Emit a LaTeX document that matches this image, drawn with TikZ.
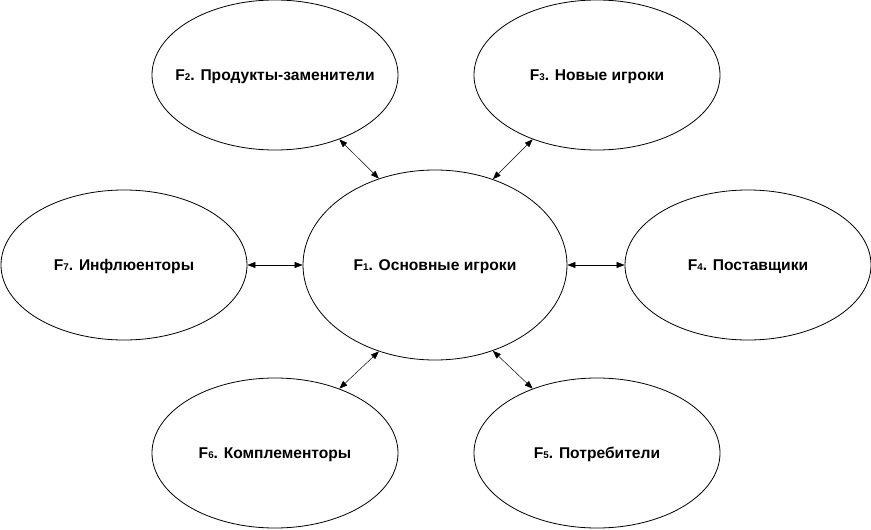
\documentclass[tikz,border=0pt]{standalone}
\usepackage{fontspec}
\setmainfont{Liberation Sans}
\usetikzlibrary{shapes.geometric, arrows.meta, positioning}

\newcommand{\fidx}[1]{F{\fontsize{9.8}{9.8}\selectfont #1}.}

\begin{document}
\begin{tikzpicture}[
			x=1pt, y=-1pt,
			factor/.style={ellipse, draw, line width=0.8pt, inner sep=0pt, minimum width=246pt, minimum height=150pt,
				label={[font=\fontsize{15.6}{18}\selectfont\bfseries, yshift=-1.5pt]center:#1}},
			core/.style={factor=#1, minimum width=264pt, minimum height=190pt},
			link/.style={line width=0.5pt, {Triangle[length=8pt, width=6pt]}-{Triangle[length=8pt, width=6pt]}}
			]
			\useasboundingbox (0,0) rectangle (871,530);
			% forces round the core
			\node[core={\fidx{1} Основные игроки}] (players) at (435,265) {};
			\node[factor={\fidx{2} Продукты-заменители}] (substitutes) at (275,75) {};
			\node[factor={\fidx{3} Новые игроки}] (entrants) at (597,75) {};
			\node[factor={\fidx{4} Поставщики}] (suppliers) at (748,265) {};
			\node[factor={\fidx{5} Потребители}] (consumers) at (597,453) {};
			\node[factor={\fidx{6} Комплементоры}] (complementors) at (275,453) {};
			\node[factor={\fidx{7} Инфлюенторы}] (influencers) at (124,265) {};
			% links
			\draw[link] (substitutes.-45) -- (players.123.8);
			\draw[link] (entrants.-135) -- (players.56.2);
			\draw[link] (influencers.east) -- (players.west);
			\draw[link] (players.east) -- (suppliers.west);
			\draw[link] (complementors.45) -- (players.-123.8);
			\draw[link] (consumers.135) -- (players.-56.2);
		\end{tikzpicture}
\end{document}
